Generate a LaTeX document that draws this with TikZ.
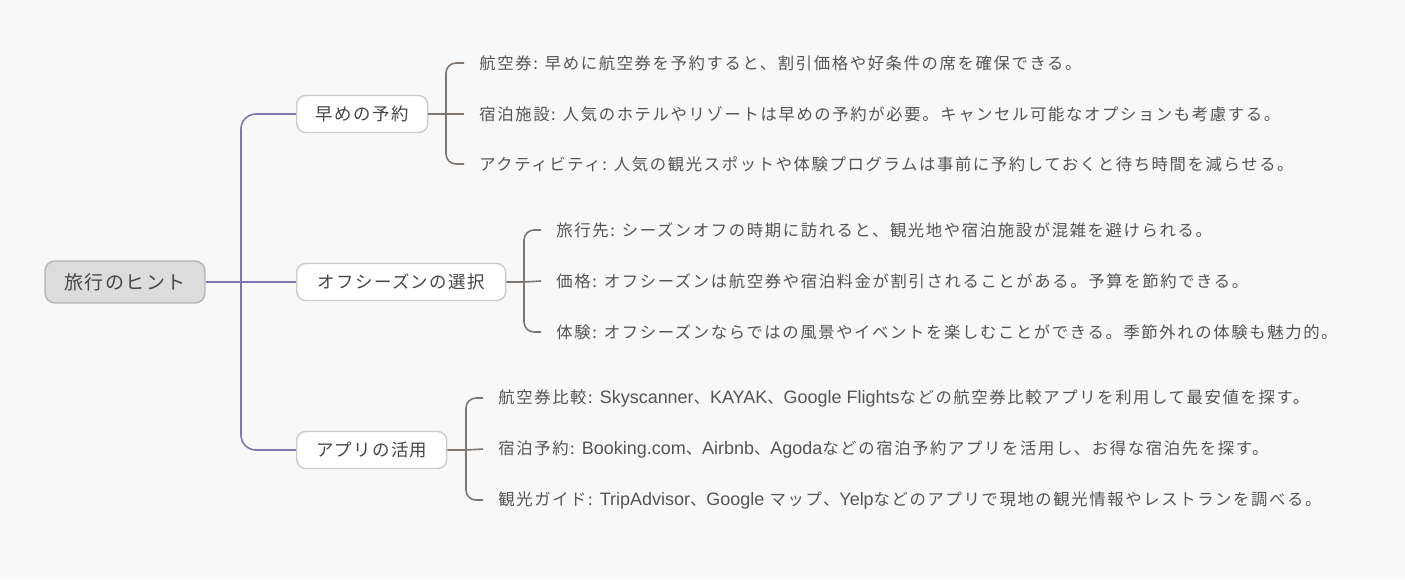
\documentclass[tikz,border=0pt]{standalone}
\usepackage{fontspec}
\newfontfamily\jpfont[LetterSpace=8]{Noto Sans CJK JP}
\newfontfamily\leaffont[LetterSpace=10]{Noto Sans CJK JP}
\newfontfamily\enfont[Scale=1.1]{Liberation Sans}

\definecolor{BgColor}{HTML}{F8F8F8}
\definecolor{RootFill}{HTML}{DCDCDC}
\definecolor{RootDraw}{HTML}{B4B4B4}
\definecolor{BranchDraw}{HTML}{CCCCCC}
\definecolor{MainLine}{HTML}{7F74B2}
\definecolor{SubLine}{HTML}{7E7671}
\definecolor{TitleText}{HTML}{454545}
\definecolor{LeafText}{HTML}{555555}

\tikzset{
  rootbox/.style={draw=RootDraw, fill=RootFill, line width=0.8pt, rounded corners=0.2cm,
    minimum width=3.2cm, minimum height=0.84cm, text=TitleText,
    font=\jpfont\fontsize{10.8}{12}\selectfont},
  branchbox/.style={draw=BranchDraw, fill=white, line width=0.8pt, rounded corners=0.18cm,
    anchor=west, minimum height=0.74cm, text=TitleText,
    font=\jpfont\fontsize{9.9}{11}\selectfont},
  leaf/.style={anchor=west, inner xsep=0.3cm, inner ysep=0pt, text=LeafText,
    font=\leaffont\fontsize{9.3}{10}\selectfont},
  mainline/.style={MainLine, line width=0.9pt},
  subline/.style={SubLine, line width=0.9pt},
}

\begin{document}
\begin{tikzpicture}[x=0.02cm, y=-0.02cm]
  % ===== Fondo =====
  \fill[BgColor] (0,0) rectangle (1405,579);

  % ===== Nodos =====
  \node[rootbox] (root) at (125,282) {旅行のヒント};

  \node[branchbox, minimum width=2.62cm] (b1) at (296,114) {早めの予約};
  \node[branchbox, minimum width=4.18cm] (b2) at (296,282) {オフシーズンの選択};
  \node[branchbox, minimum width=3.0cm]  (b3) at (296,450) {アプリの活用};

  % early booking
  \node[leaf] (l11) at (464,63)  {航空券: 早めに航空券を予約すると、割引価格や好条件の席を確保できる。};
  \node[leaf] (l12) at (464,114) {宿泊施設: 人気のホテルやリゾートは早めの予約が必要。キャンセル可能なオプションも考慮する。};
  \node[leaf] (l13) at (464,164) {アクティビティ: 人気の観光スポットや体験プログラムは事前に予約しておくと待ち時間を減らせる。};

  % off season
  \node[leaf] (l21) at (541,230) {旅行先: シーズンオフの時期に訪れると、観光地や宿泊施設が混雑を避けられる。};
  \node[leaf] (l22) at (541,281) {価格: オフシーズンは航空券や宿泊料金が割引されることがある。予算を節約できる。};
  \node[leaf] (l23) at (541,332) {体験: オフシーズンならではの風景やイベントを楽しむことができる。季節外れの体験も魅力的。};

  % apps
  \node[leaf] (l31) at (483,398) {航空券比較: {\enfont Skyscanner}、{\enfont KAYAK}、{\enfont Google Flights}などの航空券比較アプリを利用して最安値を探す。};
  \node[leaf] (l32) at (483,449) {宿泊予約: {\enfont Booking.com}、{\enfont Airbnb}、{\enfont Agoda}などの宿泊予約アプリを活用し、お得な宿泊先を探す。};
  \node[leaf] (l33) at (483,500) {観光ガイド: {\enfont TripAdvisor}、{\enfont Google} マップ、{\enfont Yelp}などのアプリで現地の観光情報やレストランを調べる。};

  % ===== Conectores =====
  \coordinate (trunk) at (241,282);
  \draw[mainline] (root.east) -- (b2.west);
  \draw[mainline, rounded corners=0.3cm] (b1.west) -| (trunk) |- (b3.west);

  \coordinate (k1) at (446,114);
  \coordinate (k2) at (524,282);
  \coordinate (k3) at (466,450);
  \foreach \b/\k/\n in {b1/k1/1, b2/k2/2, b3/k3/3}{
    \draw[subline] (\b.east) -- (\k) -- (l\n2.west);
    \draw[subline, rounded corners=0.2cm] (l\n1.west) -| (\k) |- (l\n3.west);
  }
\end{tikzpicture}
\end{document}
